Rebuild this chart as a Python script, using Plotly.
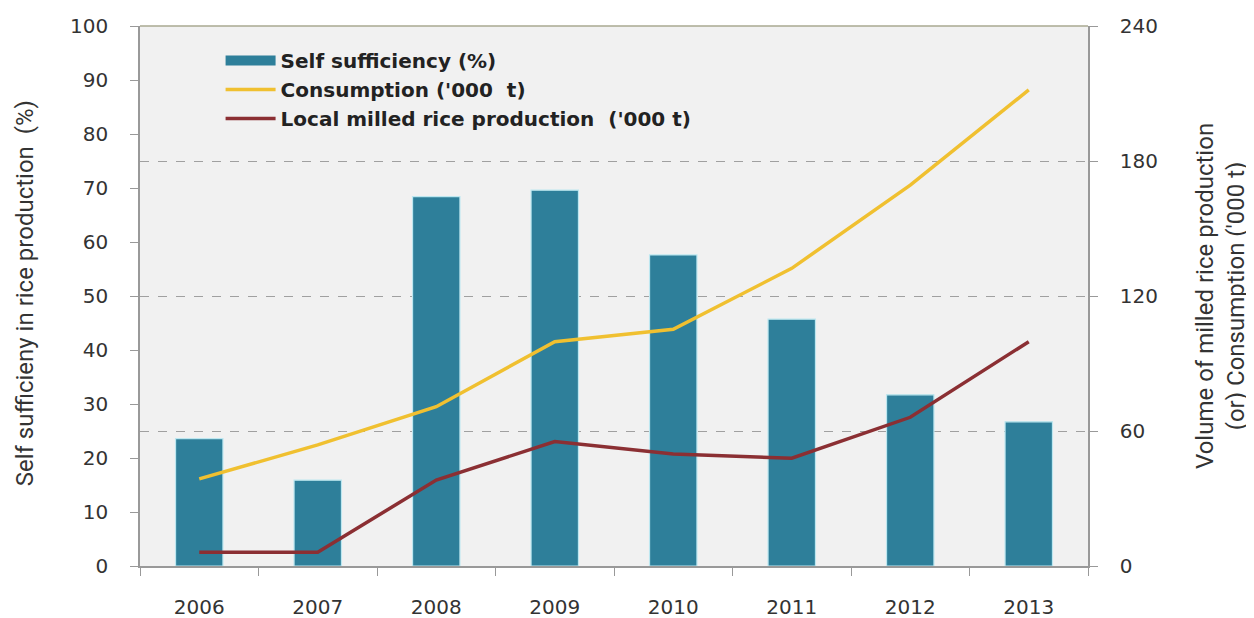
import plotly.graph_objects as go

years = ["2006", "2007", "2008", "2009", "2010", "2011", "2012", "2013"]
self_sufficiency = [23.6, 15.9, 68.4, 69.6, 57.6, 45.7, 31.7, 26.7]
consumption = [38.7, 53.8, 70.8, 99.7, 105.2, 132.3, 169.3, 211.6]
production = [6.1, 6.1, 38.2, 55.3, 49.8, 47.9, 66.1, 99.7]

left_ticks = [0, 10, 20, 30, 40, 50, 60, 70, 80, 90, 100]
right_ticks = [0, 60, 120, 180, 240]

TICK_FONT = "DejaVu Sans"
TITLE_FONT = "Roboto"
TXT = "#333333"
BAR_COLOR = "#2E7F9A"

fig = go.Figure()
fig.add_trace(go.Bar(
    x=years, y=self_sufficiency, name="Self sufficiency (%)",
    marker=dict(color=BAR_COLOR, line=dict(color="#BDE7F0", width=1.2)),
    yaxis="y", showlegend=False,
))
# legend entry drawn as a wide block, like the reference
fig.add_trace(go.Scatter(
    x=[None], y=[None], name="Self sufficiency (%)", mode="lines",
    line=dict(color=BAR_COLOR, width=12), yaxis="y",
))
fig.add_trace(go.Scatter(
    x=years, y=consumption, name="Consumption ('000  t)", mode="lines",
    line=dict(color="#F0C030", width=3.5), yaxis="y2",
))
fig.add_trace(go.Scatter(
    x=years, y=production, name="Local milled rice production  ('000 t)", mode="lines",
    line=dict(color="#8B2F33", width=3.5), yaxis="y2",
))

fig.update_layout(
    width=1246, height=610,
    margin=dict(l=132, r=166, t=18, b=52),
    paper_bgcolor="white",
    plot_bgcolor="#F1F1F1",
    bargap=0.6,
    font=dict(family=TICK_FONT, size=20, color=TXT),
    showlegend=True,
    legend=dict(
        x=0.085, y=0.972, xanchor="left", yanchor="top",
        bgcolor="rgba(0,0,0,0)", font=dict(family=TICK_FONT, size=20, color="#222222", weight="bold"),
        tracegroupgap=0, itemwidth=50,
    ),
    xaxis=dict(
        type="category", showgrid=False, automargin=False,
        showline=True, linecolor="#999999", linewidth=1.5,
        ticks="outside", tickson="boundaries", ticklen=8, tickcolor="#999999",
        tickfont=dict(family=TICK_FONT, size=20, color=TXT),
        ticklabelstandoff=22,
        range=[-0.5, 7.5],
    ),
    yaxis=dict(
        range=[0, 100], tickvals=left_ticks, showgrid=False, automargin=False,
        showline=True, linecolor="#999999", linewidth=1.5,
        ticks="outside", ticklen=8, tickcolor="#999999",
        tickfont=dict(family=TICK_FONT, size=20, color=TXT),
        ticklabelstandoff=18,
        zeroline=False,
    ),
    yaxis2=dict(
        range=[0, 240], tickvals=right_ticks, overlaying="y", side="right", automargin=False,
        showgrid=True, gridcolor="#A0A0A0", griddash="dash", gridwidth=1,
        showline=True, linecolor="#999999", linewidth=1.5,
        ticks="outside", ticklen=8, tickcolor="#999999",
        tickfont=dict(family=TICK_FONT, size=20, color=TXT),
        ticklabelstandoff=18,
        zeroline=False,
    ),
)

fig.add_shape(type="line", xref="paper", yref="paper", x0=0, x1=1, y0=1, y1=1,
              line=dict(color="#A8A890", width=1.5))

fig.add_annotation(
    text="Self sufficieny in rice production  (%)", textangle=-90,
    xref="paper", yref="paper", x=-0.1213, y=0.505, xanchor="center", yanchor="middle",
    showarrow=False, font=dict(family=TITLE_FONT, size=24, color=TXT),
)
fig.add_annotation(
    text="Volume of milled rice production<br>(or) Consumption ('000 t)", textangle=-90,
    xref="paper", yref="paper", x=1.1393, y=0.5, xanchor="center", yanchor="middle",
    showarrow=False, font=dict(family=TITLE_FONT, size=24, color=TXT),
)

fig.write_html("out.html")
